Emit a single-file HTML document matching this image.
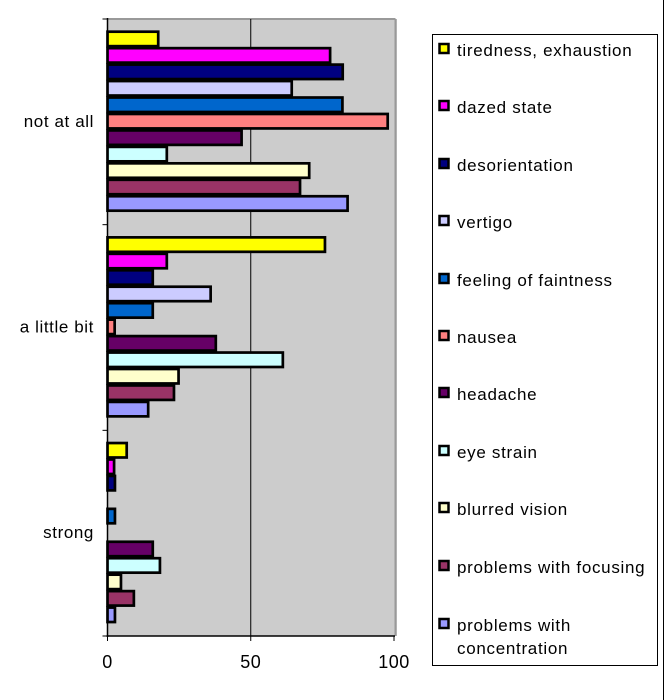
<!DOCTYPE html>
<html><head><meta charset="utf-8"><style>
body{margin:0;background:#fff;}
svg{display:block;font-family:"Liberation Sans",sans-serif;}
</style></head><body>
<svg width="666" height="700" viewBox="0 0 666 700">
<g id="plot"></g>
<g id="legend"></g>
<line x1="663.5" y1="0" x2="663.5" y2="700" stroke="#000" stroke-width="1"/>
</svg>
<script>
const categories = ["not at all", "a little bit", "strong"];
const seriesNames = ["tiredness, exhaustion","dazed state","desorientation","vertigo","feeling of faintness","nausea","headache","eye strain","blurred vision","problems with focusing","problems with concentration"];
const seriesColors = ["#FFFF00","#FF00FF","#000080","#CCCCFF","#0066CC","#FF8080","#660066","#CCFFFF","#FFFFCC","#993366","#9999FF"];
const valNotAtAll = [17.7, 77.7, 82.1, 64.3, 82, 97.8, 46.8, 20.7, 70.4, 67.2, 83.8];
const valLittle   = [75.9, 20.7, 15.8, 36, 15.8, 2.5, 37.8, 61.2, 24.8, 23.2, 14.2];
const valStrong   = [6.7, 2.3, 2.6, 0, 2.6, 0, 15.8, 18.3, 4.7, 9.2, 2.6];
const values = [valNotAtAll, valLittle, valStrong];
const xTicks = [0, 50, 100];

const NS = "http://www.w3.org/2000/svg";
const X0 = 107.5, X1 = 394, Y0 = 19, Y1 = 636;
const xs = v => X0 + (X1 - X0) * v / 100;
const band = (Y1 - Y0) / categories.length;
const plot = document.getElementById('plot');
function mk(tag, attrs, parent){const e=document.createElementNS(NS,tag);for(const k in attrs)e.setAttribute(k,attrs[k]);parent.appendChild(e);return e;}

const bg = mk('rect',{x:X0,y:Y0,width:X1-X0,height:Y1-Y0,fill:'#CCCCCC'},plot);


mk('line',{x1:X0,y1:Y0,x2:X1+1.5,y2:Y0,stroke:'#999',"stroke-width":2},plot);
mk('line',{x1:X1+1.5,y1:Y0,x2:X1+1.5,y2:Y1,stroke:'#999',"stroke-width":2.5},plot);
xTicks.forEach(t=>{
  if(t>0 && t<100){const g=mk('line',{x1:xs(t),y1:Y0,x2:xs(t),y2:Y1,stroke:'#000',"stroke-width":1},plot);
  
  }
});
const barH = 181/11, padTop = 11.7;
categories.forEach((c,ci)=>{
  const top = Y0 + ci*band + padTop;
  values[ci].forEach((v,si)=>{
    if(v<=0) return;
    const r = mk('rect',{x:X0,y:top+si*barH+1,width:xs(v)-X0,height:barH-2,fill:seriesColors[si],stroke:'#000',"stroke-width":2.7},plot);
    
    
  });
  const lab = mk('text',{x:94,y:Y0+ci*band+band/2+5,"text-anchor":"end","font-size":17,"letter-spacing":0.6,fill:'#000'},plot);
  lab.textContent=c;
  
  
});
mk('line',{x1:X0,y1:Y0-1,x2:X0,y2:Y1+1,stroke:'#000',"stroke-width":1.5},plot);
mk('line',{x1:X0-1,y1:Y1,x2:X1+1,y2:Y1,stroke:'#000',"stroke-width":1.5},plot);
for(let i=0;i<=categories.length;i++){mk('line',{x1:X0-5,y1:Y0+i*band,x2:X0,y2:Y0+i*band,stroke:'#000',"stroke-width":1},plot);}
xTicks.forEach(t=>{
  mk('line',{x1:xs(t),y1:Y1,x2:xs(t),y2:Y1+5,stroke:'#000',"stroke-width":1},plot);
  const tl = mk('text',{x:xs(t),y:Y1+32,"text-anchor":"middle","font-size":18,"letter-spacing":0.5,fill:'#000'},plot);
  tl.textContent=t;
  
  
});
const lg = document.getElementById('legend');
mk('rect',{x:432.5,y:34.5,width:225,height:631,fill:'#fff',stroke:'#000',"stroke-width":1},lg);
const rowY = [50,107,165,222,280,337,394,452,509,567,625];
seriesNames.forEach((n,i)=>{
  const y=rowY[i];
  const sw = mk('rect',{x:439.5,y:y-6,width:9,height:9,fill:seriesColors[i],stroke:'#000',"stroke-width":2.5},lg);
  
  
  const t = mk('text',{x:457,y:y+6,"font-size":17,"letter-spacing":0.7,fill:'#000'},lg);
  
  
  if(n==="problems with concentration"){
    const a=mk('tspan',{x:457},t);a.textContent="problems with";
    const b=mk('tspan',{x:457,dy:23},t);b.textContent="concentration";
  } else t.textContent=n;
});
</script>
</body></html>
